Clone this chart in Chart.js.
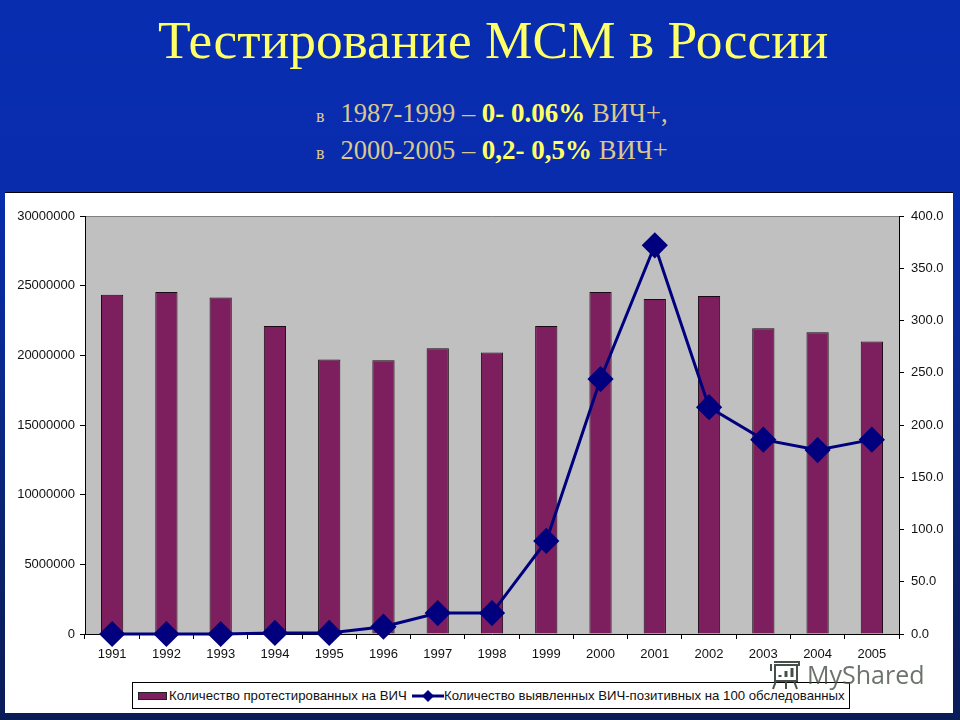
<!DOCTYPE html>
<html>
<head>
<meta charset="utf-8">
<title>Тестирование МСМ в России</title>
<script src="https://cdn.jsdelivr.net/npm/chart.js@4/dist/chart.umd.min.js"></script>
<style>
html, body { margin: 0; padding: 0; }
body {
    width: 960px; height: 720px; position: relative; overflow: hidden;
    background: linear-gradient(to bottom, #082db0 0%, #082cac 27%, #0a2a90 50%, #0a2068 80%, #0a1c58 100%);
}
.head { position: absolute; font-family: "Liberation Serif", serif; white-space: nowrap; }
#title { left: 158px; top: 10px; font-size: 53.4px; color: #ffff66; line-height: 60px; }
.sub { left: 316px; font-size: 26.5px; line-height: 30px; color: #dcc88c; }
.sub b { color: #ffff66; font-size: 27px; }
.sub small { font-size: 18px; margin-right: 16px; }
#panel {
    position: absolute; left: 5px; top: 192px; width: 948px; height: 521px;
    background: #fff; box-sizing: border-box; border-top: 1px solid #000;
}
#wheel { position: absolute; left: 0; top: 0; }
#legend {
    position: absolute; left: 127px; top: 489px; width: 718px; height: 27px; box-sizing: border-box;
    border: 1px solid #000; background: #fff; font: 13.2px "Liberation Sans", sans-serif; color: #111;
    line-height: 25px; white-space: nowrap;
}
#legend span { position: absolute; top: 0; }
.swatch { position: absolute; left: 5px; top: 9px; width: 27px; height: 6px; background: #7d1f5e; border: 1px solid #222; }
#legend svg { position: absolute; left: 279px; top: 6px; }
#brand {
    position: absolute; left: 807px; top: 657px; font: 25px "Open Sans", sans-serif;
    color: rgba(70, 80, 70, .8); white-space: nowrap;
}
#brand-icon { position: absolute; left: 768px; top: 659px; }
</style>
</head>
<body>
<div id="title" class="head">Тестирование МСМ в России</div>
<div class="head sub" style="top:98px"><small>в</small>1987-1999 – <b>0- 0.06%</b> ВИЧ+,</div>
<div class="head sub" style="top:135px"><small>в</small>2000-2005 – <b>0,2- 0,5%</b> ВИЧ+</div>

<div id="panel">
    <canvas id="wheel" width="948" height="520"></canvas>
    <div id="legend">
        <div class="swatch"></div>
        <span style="left:36px">Количество протестированных на ВИЧ</span>
        <svg width="32" height="14"><path d="M0 7H32" stroke="#00007f" stroke-width="3"/><path d="M16 1L22 7L16 13L10 7Z" fill="#00007f"/></svg>
        <span style="left:311px">Количество выявленных ВИЧ-позитивных на 100 обследованных</span>
    </div>
</div>
<svg id="brand-icon" width="34" height="32" fill="none" stroke="#46504a" stroke-width="2">
    <path d="M6 3H31V6H7V22H29V6M3 5V12M8 22L5 30M18 22V30M26 22L29 30"/>
    <path d="M12 18V16M18 18V12M24 18V9" stroke-width="3"/>
</svg>
<div id="brand">MyShared</div>

<script>
// Values
const years = ['1991', '1992', '1993', '1994', '1995', '1996', '1997', '1998', '1999', '2000', '2001', '2002', '2003', '2004', '2005'];
const tested = [24350000, 24550000, 24150000, 22100000, 19700000, 19650000, 20500000, 20200000, 22100000, 24550000, 24050000, 24250000, 21950000, 21650000, 21000000];
const positive = [0, 0, 0, 1, 1, 7, 20, 20, 89, 244, 372, 217, 186, 176, 186];

const barColor = '#7d1f5e';
const lineColor = '#00007f';
const tickFont = { family: 'Liberation Sans', size: 13 };

// grey plot background, only inside the axes
const plotBackground = {
    id: 'plotBackground',
    beforeDraw: (chart) => {
        const { ctx, chartArea: a } = chart;
        ctx.fillStyle = '#c0c0c0';
        ctx.fillRect(a.left, a.top, a.width, a.height);
    },
};

let myChart = new Chart(document.querySelector('#wheel'), {
    plugins: [plotBackground],
    data: {
        labels: years,
        datasets: [
            {
                type: 'line',
                label: 'Количество выявленных ВИЧ-позитивных на 100 обследованных',
                data: positive,
                yAxisID: 'y1',
                borderColor: lineColor,
                backgroundColor: lineColor,
                borderWidth: 3,
                tension: 0,
                pointStyle: 'rectRot',
                pointRadius: 11,
                clip: false,
                order: 1,
            },
            {
                type: 'bar',
                label: 'Количество протестированных на ВИЧ',
                data: tested,
                yAxisID: 'y',
                backgroundColor: barColor,
                borderColor: '#1a0a14',
                borderWidth: 1,
                barPercentage: 0.41,
                categoryPercentage: 1,
                order: 2,
            },
        ],
    },
    options: {
        responsive: false,
        animation: { duration: 0 },
        layout: { padding: { top: 23 } },
        plugins: {
            // legend is the framed box in the html
            legend: { display: false },
            tooltip: false,
        },
        scales: {
            x: {
                afterFit: (axis) => { axis.height = 79; },
                border: { color: '#000' },
                grid: { offset: true, drawOnChartArea: false, color: '#000', tickLength: 5 },
                ticks: { color: '#111', font: tickFont, padding: 8, maxRotation: 0 },
            },
            y: {
                position: 'left',
                min: 0,
                max: 30000000,
                afterFit: (axis) => { axis.width = 80; },
                border: { color: '#000' },
                grid: {
                    color: (ctx) => ctx.tick.value === 30000000 ? '#808080' : 'transparent',
                    tickColor: '#000',
                    tickLength: 5,
                },
                ticks: { stepSize: 5000000, color: '#111', font: tickFont, padding: 5, callback: (v) => String(v) },
            },
            y1: {
                position: 'right',
                min: 0,
                max: 400,
                afterFit: (axis) => { axis.width = 54; },
                border: { color: '#000' },
                grid: { drawOnChartArea: false, color: '#000', tickLength: 5 },
                ticks: { stepSize: 50, color: '#111', font: tickFont, padding: 7, callback: (v) => v.toFixed(1) },
            },
        },
    },
});
</script>
</body>
</html>
